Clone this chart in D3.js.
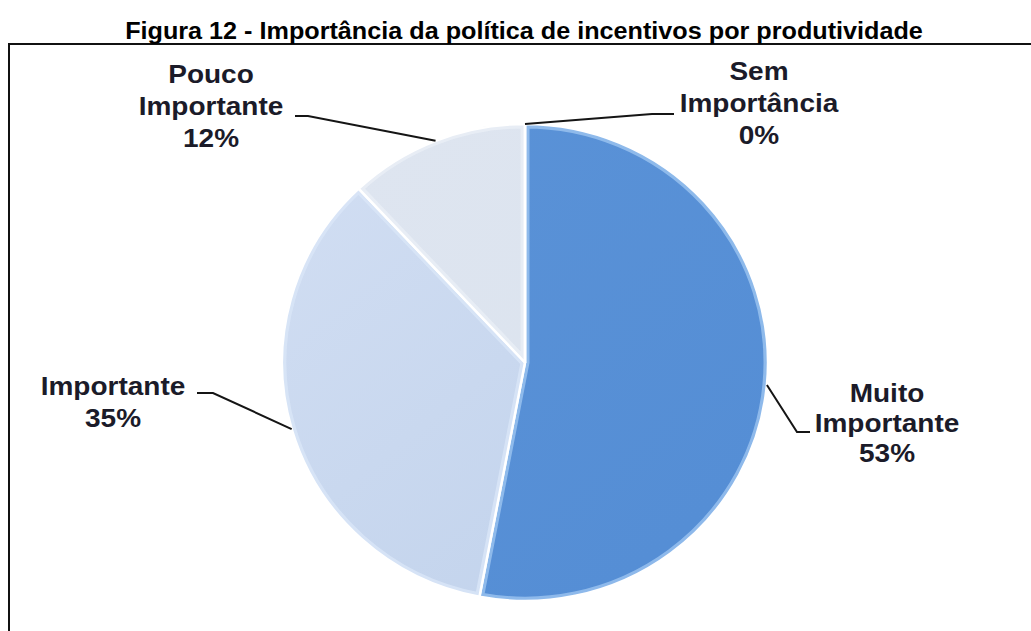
<!DOCTYPE html>
<html>
<head>
<meta charset="utf-8">
<script src="https://cdn.jsdelivr.net/npm/d3@7/dist/d3.min.js"></script>
<style>
  html, body { margin: 0; padding: 0; background: #fff; }
  svg { display: block; }
  text { font-family: "Liberation Sans", Arial, sans-serif; font-weight: bold; fill: #1b1b29; }
</style>
</head>
<body>
<svg id="chart" width="1031" height="631"></svg>
<script>
// Survey answers and their shares (%)
const categories = ["Muito Importante", "Importante", "Pouco Importante", "Sem Importância"];
const values = [53, 35, 12, 0];
const titleText = "Figura 12 -  Importância da política de incentivos por produtividade";

// Slice colours: base fill, bevel rim, gradient light end
const fills = ["#558ed5", "#c2d3ec", "#dbe3ee", "#ffffff"];
const rims = ["#9cc4f0", "#d9e6f7", "#eaeff6", "#ffffff"];
const lights = ["#5a92d7", "#d0ddf2", "#dee5f0", "#ffffff"];

const svg = d3.select("#chart");
const defs = svg.append("defs");

// text in this figure is drawn slightly widened
const stretch = 1.12;

// frame around the figure body
svg.append("rect")
  .attr("x", 9).attr("y", 44).attr("width", 1100).attr("height", 700)
  .attr("fill", "none").attr("stroke", "#111").attr("stroke-width", 2);

// title
svg.append("text")
  .attr("transform", `translate(524,39) scale(1.05,1)`)
  .attr("text-anchor", "middle")
  .style("font-size", "24px")
  .style("fill", "#000")
  .text(titleText);

// pie geometry (slightly flattened, as a tilted 3D pie)
const cx = 525, cy = 362.5, R = 243, k = 238.5 / 243;

const pie = d3.pie().sort(null).startAngle(0).endAngle(2 * Math.PI);
const arcs = pie(values);
const arc = d3.arc().innerRadius(0).outerRadius(R);

const g = svg.append("g").attr("transform", `translate(${cx},${cy}) scale(1,${k})`);

arcs.forEach((a, i) => {
  const lg = defs.append("linearGradient")
    .attr("id", "lg" + i)
    .attr("gradientUnits", "userSpaceOnUse")
    .attr("x1", -R).attr("y1", -R * 0.6).attr("x2", R * 0.3).attr("y2", R);
  lg.append("stop").attr("offset", "0%").attr("stop-color", lights[i]);
  lg.append("stop").attr("offset", "100%").attr("stop-color", fills[i]);

  defs.append("clipPath").attr("id", "clip" + i)
    .append("path").attr("d", arc(a));
});

const slices = g.selectAll("g.slice").data(arcs).join("g").attr("class", "slice");

slices.append("path")
  .attr("d", arc)
  .attr("fill", (d, i) => `url(#lg${i})`);

// bevelled rim inside each slice
slices.append("path")
  .attr("d", arc)
  .attr("fill", "none")
  .attr("clip-path", (d, i) => `url(#clip${i})`)
  .attr("stroke", (d, i) => rims[i])
  .attr("stroke-width", 9)
  .attr("stroke-opacity", 0.8)
  .attr("stroke-linejoin", "round");

// thin white separation between slices
slices.append("path")
  .attr("d", arc)
  .attr("fill", "none")
  .attr("stroke", "#fff")
  .attr("stroke-width", 2.5)
  .attr("stroke-linejoin", "round");

// point on the pie rim at a slice's middle angle
function rimPoint(a) {
  const m = (a.startAngle + a.endAngle) / 2;
  return [cx + R * Math.sin(m), cy - R * k * Math.cos(m)];
}

// label placement: text centre, first baseline, line gap, leader elbow/end
const labelLayout = [
  { x: 887, y: 402, gap: 30, elbow: [797, 432], end: [810, 432] },
  { x: 113, y: 395, gap: 32, elbow: [213, 393], end: [197, 393] },
  { x: 211, y: 83, gap: 32, elbow: [308, 116], end: [295, 116] },
  { x: 759, y: 80, gap: 32, elbow: [652, 114], end: [674, 114] }
];

arcs.forEach((a, i) => {
  const L = labelLayout[i];
  const p = rimPoint(a);
  svg.append("path")
    .attr("d", d3.line()([p, L.elbow, L.end]))
    .attr("fill", "none")
    .attr("stroke", "#151515")
    .attr("stroke-width", 2);

  const lines = categories[i].split(" ").concat([values[i] + "%"]);
  const t = svg.append("text")
    .attr("transform", `translate(${L.x},${L.y}) scale(${stretch},1)`)
    .attr("text-anchor", "middle")
    .style("font-size", "25px");
  lines.forEach((s, j) => {
    t.append("tspan").attr("x", 0).attr("y", j * L.gap).text(s);
  });
});
</script>
</body>
</html>
